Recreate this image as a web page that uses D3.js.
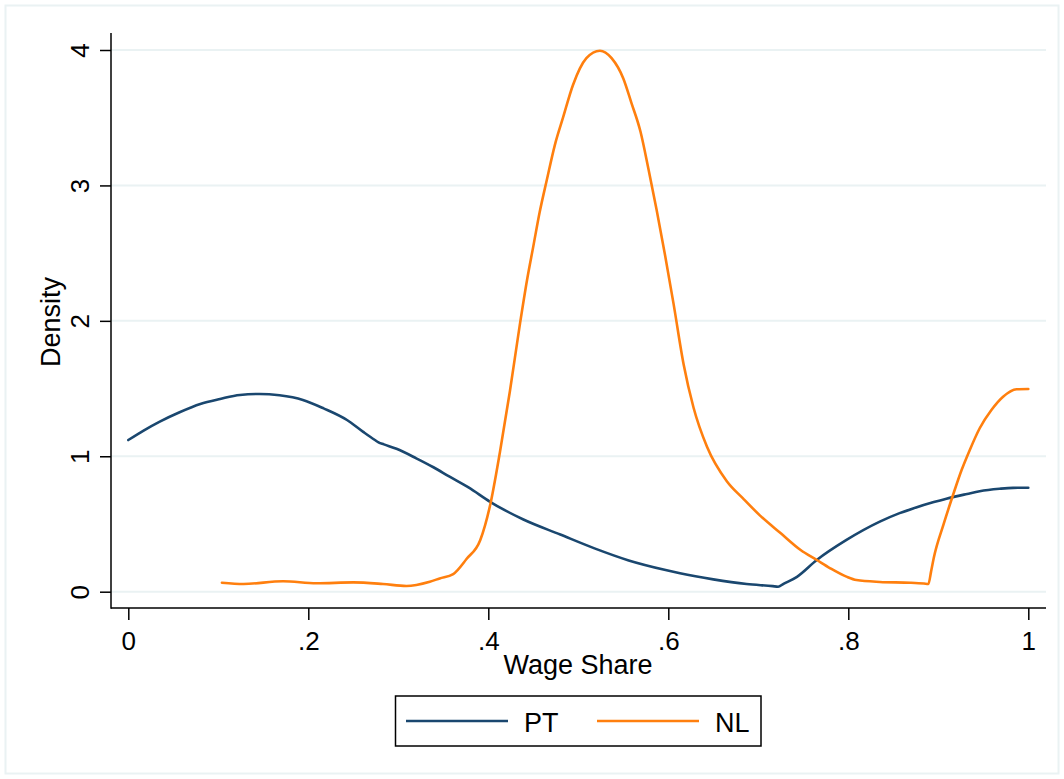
<!DOCTYPE html>
<html>
<head>
<meta charset="utf-8">
<script src="https://cdn.jsdelivr.net/npm/d3@7"></script>
<style>
  html, body { margin: 0; padding: 0; background: #fff; }
  svg { display: block; }
  text { font-family: "Liberation Sans", Arial, Helvetica, sans-serif; fill: #000; }
</style>
</head>
<body>
<svg id="chart" width="1064" height="779"></svg>
<script>
// ---- Data ----
const seriesNames = ["PT", "NL"];
const seriesColors = ["#1a476f", "#ff7f0e"];

const ptX = [0, 0.017, 0.035, 0.057, 0.08, 0.102, 0.124, 0.146, 0.168, 0.194, 0.217, 0.243, 0.261, 0.274, 0.278,
  0.284, 0.298, 0.32, 0.339, 0.357, 0.378, 0.402, 0.439, 0.48, 0.518, 0.556, 0.597, 0.613, 0.65, 0.687,
  0.716, 0.722, 0.728, 0.743, 0.765, 0.798, 0.835, 0.857, 0.872, 0.895, 0.909, 0.932, 0.946, 0.968, 0.983, 1.0];
const ptY = [1.12, 1.19, 1.256, 1.325, 1.386, 1.423, 1.453, 1.46, 1.45, 1.416, 1.354, 1.268, 1.18, 1.12, 1.103,
  1.088, 1.055, 0.985, 0.919, 0.849, 0.77, 0.664, 0.533, 0.422, 0.32, 0.231, 0.16, 0.136, 0.091, 0.057,
  0.041, 0.037, 0.058, 0.11, 0.234, 0.382, 0.517, 0.58, 0.615, 0.662, 0.687, 0.722, 0.742, 0.76, 0.767, 0.768];

const nlX = [0.104, 0.128, 0.172, 0.209, 0.25, 0.283, 0.309, 0.335, 0.346, 0.361, 0.376, 0.391, 0.402, 0.413,
  0.424, 0.435, 0.443, 0.45, 0.457, 0.465, 0.474, 0.483, 0.494, 0.509, 0.524, 0.537, 0.55, 0.559, 0.569, 0.578,
  0.587, 0.596, 0.606, 0.617, 0.628, 0.643, 0.665, 0.683, 0.702, 0.725, 0.747, 0.765, 0.78, 0.798, 0.809,
  0.835, 0.869, 0.884, 0.889, 0.892, 0.895, 0.906, 0.917, 0.926, 0.935, 0.946, 0.959, 0.972, 0.987, 1.0];
const nlY = [0.066, 0.057, 0.077, 0.062, 0.069, 0.057, 0.042, 0.074, 0.098, 0.13, 0.243, 0.38, 0.638, 1.034,
  1.48, 1.97, 2.3, 2.55, 2.80, 3.04, 3.3, 3.5, 3.74, 3.94, 3.995, 3.94, 3.79, 3.61, 3.40, 3.12,
  2.82, 2.50, 2.12, 1.68, 1.36, 1.07, 0.816, 0.689, 0.562, 0.431, 0.308, 0.234, 0.173, 0.111, 0.086,
  0.072, 0.066, 0.06, 0.057, 0.15, 0.25, 0.5, 0.727, 0.9, 1.047, 1.207, 1.342, 1.44, 1.495, 1.497];

const xTicks = [0, 0.2, 0.4, 0.6, 0.8, 1];
const xTickLabels = ["0", ".2", ".4", ".6", ".8", "1"];
const yTicks = [0, 1, 2, 3, 4];
const yTickLabels = ["0", "1", "2", "3", "4"];
const xTitle = "Wage Share";
const yTitle = "Density";

// ---- Layout ----
const svg = d3.select("#chart");
const W = 1064, H = 779;
const plotLeft = 111, plotRight = 1046, plotTop = 33, plotBottom = 608;
const gridColor = "#eaf2f3";

const x = d3.scaleLinear().domain([0, 1]).range([128.3, 1028.3]);
const y = d3.scaleLinear().domain([0, 4]).range([591.7, 50]);

// outer frame
svg.append("rect").attr("x", 0).attr("y", 0).attr("width", W).attr("height", H).attr("fill", "#fff");
svg.append("rect").attr("x", 5.5).attr("y", 5.5).attr("width", W - 11).attr("height", H - 11)
  .attr("fill", "none").attr("stroke", gridColor).attr("stroke-width", 2);

// gridlines
svg.append("g").selectAll("line").data(yTicks).join("line")
  .attr("x1", plotLeft).attr("x2", plotRight)
  .attr("y1", d => y(d)).attr("y2", d => y(d))
  .attr("stroke", gridColor).attr("stroke-width", 2);

// axes
const xAxis = d3.axisBottom(x).tickValues(xTicks).tickFormat((d, i) => xTickLabels[i])
  .tickSizeInner(12).tickSizeOuter(0).tickPadding(6);
const gx = svg.append("g").attr("transform", `translate(0,${plotBottom})`).call(xAxis);
gx.select(".domain").remove();
gx.selectAll(".tick line").attr("stroke", "#000").attr("stroke-width", 1.5);
gx.selectAll(".tick text").attr("font-size", 26).attr("font-family", "Liberation Sans, Arial, sans-serif")
  .attr("fill", "#000").attr("y", 0).attr("dy", null).attr("transform", "translate(0,42)");

const yAxis = d3.axisLeft(y).tickValues(yTicks).tickFormat((d, i) => yTickLabels[i])
  .tickSizeInner(11).tickSizeOuter(0);
const gy = svg.append("g").attr("transform", `translate(${plotLeft},0)`).call(yAxis);
gy.select(".domain").remove();
gy.selectAll(".tick line").attr("stroke", "#000").attr("stroke-width", 1.5);
gy.selectAll(".tick text").attr("font-size", 26).attr("font-family", "Liberation Sans, Arial, sans-serif")
  .attr("fill", "#000").attr("x", null).attr("dy", null).attr("text-anchor", "middle")
  .attr("transform", "translate(-22,0) rotate(-90)");

// axis lines
svg.append("line").attr("x1", plotLeft).attr("x2", plotLeft).attr("y1", plotTop).attr("y2", plotBottom + 0.75)
  .attr("stroke", "#000").attr("stroke-width", 1.5);
svg.append("line").attr("x1", plotLeft).attr("x2", plotRight).attr("y1", plotBottom).attr("y2", plotBottom)
  .attr("stroke", "#000").attr("stroke-width", 1.5);

// series lines
const line = d3.line().x(d => x(d[0])).y(d => y(d[1])).curve(d3.curveMonotoneX);
const ptData = ptX.map((v, i) => [v, ptY[i]]);
const nlData = nlX.map((v, i) => [v, nlY[i]]);
[ptData, nlData].forEach((data, i) => {
  svg.append("path").datum(data).attr("d", line)
    .attr("fill", "none").attr("stroke", seriesColors[i]).attr("stroke-width", 2.6)
    .attr("stroke-linejoin", "round").attr("stroke-linecap", "round");
});

// titles
svg.append("text").attr("x", 578).attr("y", 674).attr("text-anchor", "middle")
  .attr("font-size", 27).text(xTitle);
svg.append("text").attr("transform", "translate(60,322) rotate(-90)").attr("text-anchor", "middle")
  .attr("font-size", 27).text(yTitle);

// legend
const lg = svg.append("g");
lg.append("rect").attr("x", 395.5).attr("y", 696).attr("width", 365.5).attr("height", 50)
  .attr("fill", "#fff").attr("stroke", "#000").attr("stroke-width", 1.5);
const legendLineX = [[406, 508], [597, 699]];
const legendTextX = [524, 715];
seriesNames.forEach((name, i) => {
  lg.append("line").attr("x1", legendLineX[i][0]).attr("x2", legendLineX[i][1])
    .attr("y1", 721).attr("y2", 721).attr("stroke", seriesColors[i]).attr("stroke-width", 2.6);
  lg.append("text").attr("x", legendTextX[i]).attr("y", 731.5).attr("font-size", 27).text(name);
});
</script>
</body>
</html>
